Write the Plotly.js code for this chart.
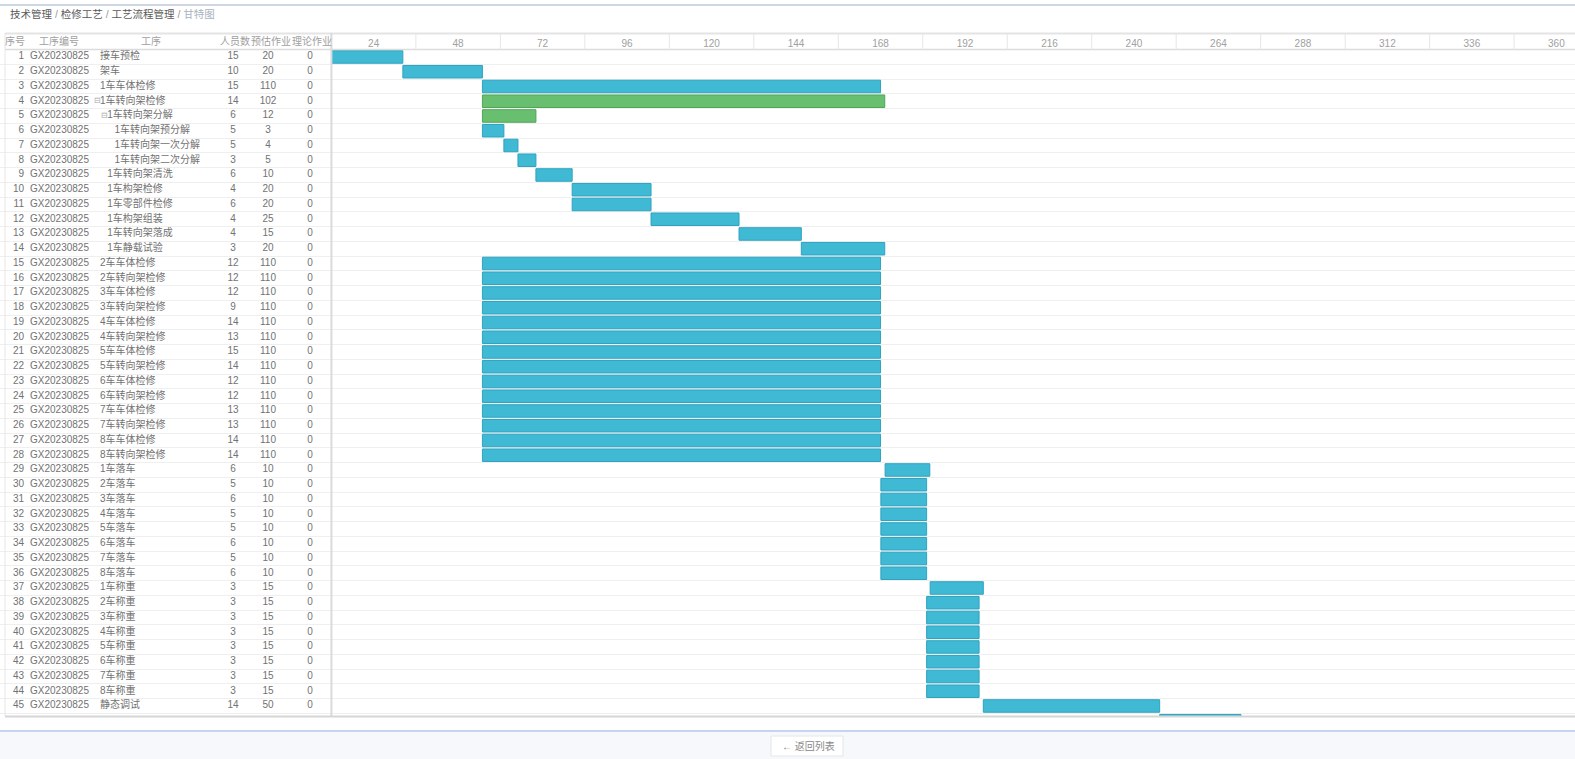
<!DOCTYPE html>
<html>
<head>
<meta charset="utf-8">
<script src="https://cdn.plot.ly/plotly-3.0.1.min.js"></script>
<style>html,body{margin:0;padding:0;background:#fff;}#chart{width:1575px;height:759px;}</style>
</head>
<body>
<div id="chart"></div>
<script>
// ---------- data ----------
const seqNo = [1,2,3,4,5,6,7,8,9,10,11,12,13,14,15,16,17,18,19,20,21,22,23,24,25,26,27,28,29,30,31,32,33,34,35,36,37,38,39,40,41,42,43,44,45,46];
const codes = ['GX20230825','GX20230825','GX20230825','GX20230825','GX20230825','GX20230825','GX20230825','GX20230825','GX20230825','GX20230825',
  'GX20230825','GX20230825','GX20230825','GX20230825','GX20230825','GX20230825','GX20230825','GX20230825','GX20230825','GX20230825',
  'GX20230825','GX20230825','GX20230825','GX20230825','GX20230825','GX20230825','GX20230825','GX20230825','GX20230825','GX20230825',
  'GX20230825','GX20230825','GX20230825','GX20230825','GX20230825','GX20230825','GX20230825','GX20230825','GX20230825','GX20230825',
  'GX20230825','GX20230825','GX20230825','GX20230825','GX20230825',''];
const procNames = ['接车预检','架车','1车车体检修','1车转向架检修','1车转向架分解','1车转向架预分解','1车转向架一次分解','1车转向架二次分解',
  '1车转向架清洗','1车构架检修','1车零部件检修','1车构架组装','1车转向架落成','1车静载试验',
  '2车车体检修','2车转向架检修','3车车体检修','3车转向架检修','4车车体检修','4车转向架检修','5车车体检修','5车转向架检修',
  '6车车体检修','6车转向架检修','7车车体检修','7车转向架检修','8车车体检修','8车转向架检修',
  '1车落车','2车落车','3车落车','4车落车','5车落车','6车落车','7车落车','8车落车',
  '1车称重','2车称重','3车称重','4车称重','5车称重','6车称重','7车称重','8车称重','静态调试',''];
const levels = [0,0,0,0,1,2,2,2,1,1,1,1,1,1,0,0,0,0,0,0,0,0,0,0,0,0,0,0,0,0,0,0,0,0,0,0,0,0,0,0,0,0,0,0,0,0];
const isParent = [0,0,0,1,1,0,0,0,0,0,0,0,0,0,0,0,0,0,0,0,0,0,0,0,0,0,0,0,0,0,0,0,0,0,0,0,0,0,0,0,0,0,0,0,0,0];
const crew = [15,10,15,14,6,5,5,3,6,4,6,4,4,3,12,12,12,9,14,13,15,14,12,12,13,13,14,14,6,5,6,5,5,6,5,6,3,3,3,3,3,3,3,3,14,''];
const estHours = [20,20,110,102,12,3,4,5,10,20,20,25,15,20,110,110,110,110,110,110,110,110,110,110,110,110,110,110,10,10,10,10,10,10,10,10,15,15,15,15,15,15,15,15,50,''];
const theoryHours = [0,0,0,0,0,0,0,0,0,0,0,0,0,0,0,0,0,0,0,0,0,0,0,0,0,0,0,0,0,0,0,0,0,0,0,0,0,0,0,0,0,0,0,0,0,''];
const startH = [0,20.3,42.9,42.9,42.9,42.9,49,53,58.1,68.4,68.4,90.8,115.8,133.5,
  42.9,42.9,42.9,42.9,42.9,42.9,42.9,42.9,42.9,42.9,42.9,42.9,42.9,42.9,
  157.3,156.1,156.1,156.1,156.1,156.1,156.1,156.1,
  170.1,169.1,169.1,169.1,169.1,169.1,169.1,169.1,185.2,235.3];
const endH = [20.3,42.9,156,157.2,58.1,49,53,58.1,68.4,90.8,90.8,115.8,133.5,157.2,
  156,156,156,156,156,156,156,156,156,156,156,156,156,156,
  170,169.1,169.1,169.1,169.1,169.1,169.1,169.1,
  185.2,184,184,184,184,184,184,184,235.3,258.4];
const hourLabels = ['24','48','72','96','120','144','168','192','216','240','264','288','312','336','360'];
const tableHeaders = ['序号','工序编号','工序','人员数','预估作业','理论作业'];
const breadcrumb = ['技术管理','检修工艺','工艺流程管理','甘特图'];
const backLabel = '← 返回列表';

// ---------- geometry helpers (layout only) ----------
const W = 1575, H = 759;
const fx = p => p / W;
const fy = p => 1 - p / H;
const SPLIT = 331.4, PLOT_TOP = 49.6, PLOT_BOT = 716, ROW_H = 14.75;
const PX_PER_H = 3.52;
const FONT = 'Liberation Sans, Noto Sans CJK SC, sans-serif';
const TXT = '#727272', HDR = '#a0a0a0';

const durations = endH.map((e, i) => e - startH[i]);
const barColors = isParent.map(p => p ? '#68bf6f' : '#3fb9d4');
const barLines = isParent.map(p => p ? '#4fa557' : '#2fa3bf');

const tTxt = (x, text, pos, extra) => Object.assign({
  type: 'scatter', mode: 'text', xaxis: 'x2', yaxis: 'y',
  x: seqNo.map(() => x), y: seqNo, text: text, textposition: pos,
  textfont: {family: FONT, size: 10, color: TXT}, hoverinfo: 'skip', cliponaxis: true
}, extra || {});

const traces = [
  {
    type: 'bar', orientation: 'h', xaxis: 'x', yaxis: 'y',
    y: seqNo, x: durations, base: startH, width: 0.85,
    marker: {color: barColors, line: {color: barLines, width: 1}},
    hoverinfo: 'skip'
  },
  tTxt(24, seqNo.map((s, i) => codes[i] ? String(s) : ''), 'middle left'),
  tTxt(30, codes, 'middle right'),
  Object.assign(tTxt(0, procNames, 'middle right'), {x: levels.map(l => 100 + l * 7.2)}),
  Object.assign(tTxt(0, isParent.map(p => p ? '⊟' : ''), 'middle right'),
    {x: levels.map(l => 94 + l * 7.2), textfont: {family: FONT, size: 8, color: '#aaa'}}),
  tTxt(233, crew.map(String), 'middle center'),
  tTxt(268, estHours.map(String), 'middle center'),
  tTxt(310, theoryHours.map(String), 'middle center')
];

const xMax = (W - SPLIT) / PX_PER_H;
const yBottom = 0.5 + (PLOT_BOT - PLOT_TOP) / ROW_H;

const shapes = [];
const line = (x0, y0, x1, y1, color, width) => shapes.push({
  type: 'line', xref: 'paper', yref: 'paper', x0: fx(x0), y0: fy(y0), x1: fx(x1), y1: fy(y1),
  line: {color: color, width: width}, layer: 'above'
});
// top rule
line(0, 5, W, 5, '#bfcad8', 1.5);
// table frame
line(5, 33.5, W, 33.5, '#e4e4e4', 2);
line(5, PLOT_TOP, W, PLOT_TOP, '#dcdcdc', 1.5);
line(5, 33, 5, PLOT_BOT, '#e6e6e6', 1);
line(SPLIT, 33, SPLIT, PLOT_BOT, '#dadada', 2);
line(5, PLOT_BOT + 0.5, W, PLOT_BOT + 0.5, '#d6d6d6', 2);
// header column separators (timeline)
hourLabels.forEach(l => {
  shapes.push({type: 'line', xref: 'x', yref: 'paper', x0: Number(l), x1: Number(l),
    y0: fy(PLOT_TOP), y1: fy(34), line: {color: '#e6e6e6', width: 1}, layer: 'above'});
});
// footer
shapes.push({type: 'rect', xref: 'paper', yref: 'paper', x0: 0, x1: 1, y0: 0, y1: fy(731),
  fillcolor: '#f6f8fb', line: {width: 0}, layer: 'above'});
line(0, 731, W, 731, '#c5d5ee', 2);
shapes.push({type: 'rect', xref: 'paper', yref: 'paper', x0: fx(771), x1: fx(843), y0: fy(756), y1: fy(736),
  fillcolor: '#ffffff', line: {color: '#e4e6ea', width: 1}, layer: 'above'});

const annotations = [];
const ann = (x, y, text, anchor, size, color) => annotations.push({
  xref: 'paper', yref: 'paper', x: fx(x), y: fy(y), text: text, showarrow: false,
  xanchor: anchor, yanchor: 'middle', font: {family: FONT, size: size, color: color}
});
// breadcrumb
const crumbText = breadcrumb.slice(0, -1).map(b => '<span style="color:#5a5a5a">' + b + '</span>').join('<span style="color:#999"> / </span>')
  + '<span style="color:#999"> / </span><span style="color:#a9b3bf">' + breadcrumb[breadcrumb.length - 1] + '</span>';
ann(8, 14, crumbText, 'left', 10.5, '#5a5a5a');
// table headers
ann(15, 41.5, tableHeaders[0], 'center', 10, HDR);
ann(59, 41.5, tableHeaders[1], 'center', 10, HDR);
ann(151, 41.5, tableHeaders[2], 'center', 10, HDR);
ann(218, 41.5, tableHeaders[3], 'left', 10, HDR);
ann(249, 41.5, tableHeaders[4], 'left', 10, HDR);
ann(290, 41.5, tableHeaders[5], 'left', 10, HDR);
// back button
ann(808, 746, backLabel, 'center', 10, '#888');

const layout = {
  width: W, height: H,
  margin: {l: 0, r: 0, t: 0, b: 0, pad: 0},
  paper_bgcolor: '#ffffff', plot_bgcolor: '#ffffff',
  showlegend: false,
  font: {family: FONT, size: 10, color: TXT},
  xaxis: {
    domain: [fx(SPLIT), 1], range: [0, xMax], side: 'top', anchor: 'y',
    tickvals: hourLabels.map(l => Number(l) - 12), ticktext: hourLabels,
    tickfont: {family: FONT, size: 10, color: HDR},
    ticks: '', showgrid: false, zeroline: false, showline: false, ticklabelstandoff: 0
  },
  xaxis2: {
    domain: [0, fx(SPLIT)], range: [0, SPLIT], anchor: 'y',
    showticklabels: false, ticks: '', showgrid: false, zeroline: false, showline: false
  },
  yaxis: {
    domain: [fy(PLOT_BOT), fy(PLOT_TOP)], range: [yBottom, 0.5], anchor: 'x',
    tick0: 0.5, dtick: 1, showticklabels: false, ticks: '',
    showgrid: true, gridcolor: '#efefef', gridwidth: 1, zeroline: false, showline: false
  },
  shapes: shapes,
  annotations: annotations
};

Plotly.newPlot('chart', traces, layout, {displayModeBar: false, staticPlot: true});
</script>
</body>
</html>
